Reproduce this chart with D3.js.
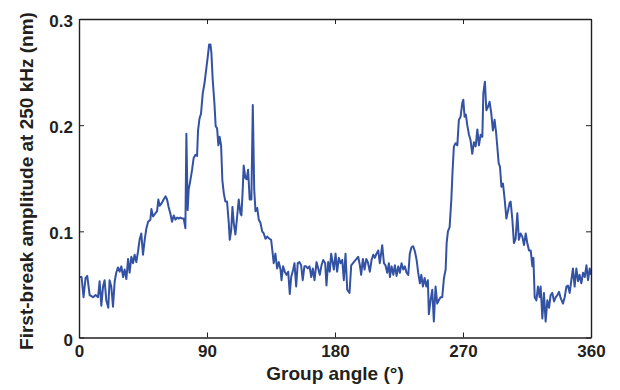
<!DOCTYPE html>
<html>
<head>
<meta charset="utf-8">
<script src="https://cdn.jsdelivr.net/npm/d3@7/dist/d3.min.js"></script>
<style>
  html, body { margin: 0; padding: 0; background: #fff; }
  svg { display: block; }
  text { font-family: "Liberation Sans", Arial, sans-serif; font-weight: bold; fill: #231f20; }
</style>
</head>
<body>
<svg id="chart" width="620" height="390"></svg>
<script>
// Group angle (degrees), sampled around the full circle
const angleDeg = [
  0.4,1.8,3.2,4.6,5.8,7.5,9.9,11.7,13.4,14.5,
  15.7,16.9,18.0,19.2,20.6,21.5,22.7,23.9,25.1,26.2,
  27.4,28.6,29.8,31.0,32.1,33.3,34.5,35.6,36.8,38.0,
  39.1,40.3,41.5,42.6,43.8,45.0,46.2,47.4,48.6,50.2,
  50.9,52.1,53.7,54.9,55.8,56.7,57.9,59.5,60.9,61.9,
  63.0,64.2,65.4,66.6,67.8,69.0,70.1,71.3,72.5,73.6,
  74.8,75.5,76.4,77.1,78.3,79.5,80.6,81.8,83.0,83.7,
  84.7,85.8,87.0,88.2,89.4,90.5,91.5,92.4,93.1,94.0,
  95.2,96.1,97.1,98.0,98.9,99.9,100.8,101.8,102.9,104.1,
  105.3,106.0,107.0,107.9,108.8,110.0,111.2,112.3,113.5,114.2,
  115.1,115.8,117.0,117.9,118.9,120.0,121.2,122.2,123.2,124.1,
  125.3,126.4,127.6,128.8,129.9,131.1,132.3,133.9,135.1,136.2,
  136.9,138.1,139.3,140.5,141.7,142.4,143.5,144.7,145.9,147.1,
  148.2,149.2,150.6,151.5,152.7,153.8,155.0,156.2,157.3,158.5,
  159.7,160.9,162.1,163.3,164.4,165.6,167.0,168.2,169.3,170.5,
  171.7,173.1,174.0,175.2,176.3,177.3,179.2,180.4,181.5,182.7,
  183.9,185.1,186.2,187.4,188.6,190.2,191.4,193.2,195.1,196.3,
  197.5,198.4,199.6,200.8,202.0,203.1,204.5,205.7,206.9,208.0,
  209.2,210.4,211.5,213.2,214.4,215.5,216.7,217.9,218.6,219.8,
  221.0,222.1,223.3,224.5,225.6,226.8,228.0,229.1,230.3,231.5,
  232.6,233.8,235.0,236.2,237.4,238.5,239.7,240.7,241.8,243.0,
  244.2,245.3,246.0,247.2,248.4,249.5,250.7,251.9,253.0,254.2,
  255.4,256.6,257.8,258.5,259.4,260.6,261.8,262.7,263.6,264.8,
  266.0,267.1,268.3,269.5,270.2,271.1,272.0,273.0,274.2,275.3,
  276.5,277.7,278.9,280.1,281.2,282.4,283.6,284.3,285.4,286.4,
  287.5,288.7,289.9,291.0,292.2,293.2,294.1,295.1,296.0,297.0,
  298.1,299.3,300.5,301.6,302.8,303.5,304.7,305.8,307.0,308.2,
  309.3,310.5,311.7,312.9,314.1,315.2,316.4,317.6,318.8,319.5,
  320.4,321.6,322.7,323.9,324.6,325.8,326.9,328.1,329.3,330.5,
  331.6,332.8,334.0,335.2,336.4,337.5,338.7,340.3,341.5,342.7,
  343.8,345.0,346.2,347.3,348.5,349.7,350.9,352.0,353.2,354.4,
  355.6,356.8,357.9,359.1,360.0
];

// First-break amplitude at 250 kHz (nm), one value per angle above
const amplitudeNm = [
  .057,.057,.038,.056,.058,.040,.038,.040,.038,.053,
  .030,.048,.054,.035,.028,.054,.048,.029,.053,.061,
  .066,.062,.067,.057,.064,.055,.074,.061,.076,.070,
  .078,.071,.081,.092,.098,.078,.092,.103,.109,.111,
  .121,.114,.117,.119,.130,.124,.126,.130,.133,.130,
  .123,.117,.109,.115,.111,.113,.112,.113,.112,.112,
  .103,.192,.120,.139,.148,.158,.169,.172,.171,.195,
  .206,.211,.230,.239,.252,.264,.276,.276,.268,.243,
  .221,.199,.197,.181,.189,.181,.148,.136,.128,.128,
  .108,.092,.101,.123,.108,.097,.114,.130,.117,.115,
  .139,.162,.150,.149,.158,.130,.130,.219,.139,.119,
  .122,.111,.108,.100,.098,.093,.095,.093,.092,.079,
  .070,.079,.065,.071,.064,.054,.067,.062,.059,.062,
  .041,.057,.064,.070,.048,.070,.071,.068,.054,.067,
  .067,.065,.067,.057,.065,.054,.071,.065,.059,.068,
  .073,.070,.049,.071,.062,.079,.064,.079,.062,.075,
  .070,.073,.054,.079,.045,.042,.068,.071,.074,.076,
  .068,.059,.074,.064,.074,.071,.062,.073,.078,.075,
  .079,.082,.070,.087,.070,.068,.061,.070,.057,.067,
  .059,.068,.058,.067,.061,.070,.064,.067,.061,.059,
  .079,.085,.086,.081,.073,.061,.051,.059,.048,.056,
  .048,.054,.022,.035,.045,.015,.048,.032,.035,.038,
  .038,.056,.064,.089,.100,.104,.130,.158,.180,.183,
  .181,.205,.208,.221,.224,.208,.210,.200,.191,.186,
  .173,.184,.180,.196,.181,.191,.189,.230,.241,.214,
  .217,.222,.211,.195,.205,.194,.180,.164,.161,.142,
  .145,.130,.112,.119,.127,.128,.111,.089,.093,.117,
  .092,.098,.095,.087,.098,.089,.082,.082,.067,.075,
  .038,.035,.048,.038,.048,.018,.042,.015,.035,.028,
  .040,.042,.034,.038,.040,.043,.037,.032,.038,.048,
  .049,.042,.054,.065,.048,.065,.053,.059,.051,.061,
  .057,.068,.054,.065,.059
];

const xTicks = [0, 90, 180, 270, 360];
const xTickLabels = ["0", "90", "180", "270", "360"];
const yTicks = [0, 0.1, 0.2, 0.3];
const yTickLabels = ["0", "0.1", "0.2", "0.3"];
const xTitle = "Group angle (°)";
const yTitle = "First-break amplitude at 250 kHz (nm)";

const W = 620, H = 390;
const margin = { top: 19, right: 29, bottom: 52.5, left: 79 };
const iw = W - margin.left - margin.right;
const ih = H - margin.top - margin.bottom;

const svg = d3.select("#chart");
const g = svg.append("g").attr("transform", `translate(${margin.left},${margin.top})`);

const x = d3.scaleLinear().domain([0, 360]).range([0, iw]);
const y = d3.scaleLinear().domain([0, 0.3]).range([ih, 0]);

const series = angleDeg.map((a, i) => ({ a, v: amplitudeNm[i] }));

// Trace
g.append("path")
  .datum(series)
  .attr("fill", "none")
  .attr("stroke", "#3352a4")
  .attr("stroke-width", 2)
  .attr("stroke-linejoin", "round")
  .attr("d", d3.line().x(d => x(d.a)).y(d => y(d.v)));

// Axes with inward ticks on all four sides
const tickLen = 5;
const tickFont = 17;
const bottomAxis = d3.axisBottom(x).tickValues(xTicks)
  .tickFormat((d, i) => xTickLabels[i]).tickSizeInner(-tickLen).tickSizeOuter(0).tickPadding(7);
const topAxis = d3.axisTop(x).tickValues(xTicks)
  .tickFormat("").tickSizeInner(-tickLen).tickSizeOuter(0);
const leftAxis = d3.axisLeft(y).tickValues(yTicks)
  .tickFormat((d, i) => yTickLabels[i]).tickSizeInner(-tickLen).tickSizeOuter(0).tickPadding(6);
const rightAxis = d3.axisRight(y).tickValues(yTicks)
  .tickFormat("").tickSizeInner(-tickLen).tickSizeOuter(0);

function styleAxis(sel) {
  sel.selectAll("path.domain").attr("stroke", "#231f20").attr("stroke-width", 1.4);
  sel.selectAll(".tick line").attr("stroke", "#231f20").attr("stroke-width", 1);
  sel.selectAll(".tick text").attr("font-size", tickFont).attr("font-family", "Liberation Sans, Arial, sans-serif")
    .attr("font-weight", "bold").attr("fill", "#231f20");
}

g.append("g").attr("transform", `translate(0,${ih})`).call(bottomAxis).call(styleAxis);
g.append("g").call(topAxis).call(styleAxis);
g.append("g").call(leftAxis).call(styleAxis)
  .selectAll(".tick text").attr("dy", "0.45em");
g.append("g").attr("transform", `translate(${iw},0)`).call(rightAxis).call(styleAxis);

// Axis titles
svg.append("text")
  .attr("x", margin.left + iw / 2)
  .attr("y", 380)
  .attr("text-anchor", "middle")
  .attr("font-size", 19)
  .text(xTitle);

svg.append("text")
  .attr("transform", `translate(33,181) rotate(-90)`)
  .attr("text-anchor", "middle")
  .attr("font-size", 19)
  .text(yTitle);
</script>
</body>
</html>
